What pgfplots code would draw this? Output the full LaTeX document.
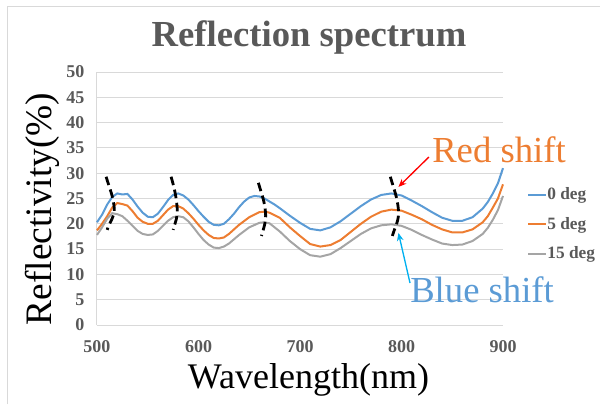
\documentclass[border=0pt]{standalone}
\usepackage{pgfplots}
\pgfplotsset{compat=1.18}
\usepackage{fontspec}
\setmainfont{Liberation Serif}
\usetikzlibrary{arrows.meta}
\definecolor{cblue}{HTML}{5B9BD5}
\definecolor{corange}{HTML}{ED7D31}
\definecolor{cgray}{HTML}{A5A5A5}
\definecolor{gridgray}{HTML}{D9D9D9}
\definecolor{tgray}{HTML}{595959}
\definecolor{arrowblue}{HTML}{00B0F0}
\begin{document}
\begin{tikzpicture}
\path[use as bounding box] (-72.75pt,-59.25pt) rectangle (377.25pt,243.75pt);
\begin{axis}[
    at={(0,0)}, anchor=south west, scale only axis,
    width=304.5pt, height=189.75pt,
    xmin=500, xmax=900, ymin=0, ymax=50,
    xtick={500,600,...,900}, ytick={0,5,...,50},
    ymajorgrids, grid style={gridgray, line width=0.75pt},
    axis x line*=bottom, axis y line*=left,
    axis line style={gridgray, line width=0.75pt, -},
    major tick length=0pt,
    tick label style={font=\bfseries\fontsize{13.5}{14}\selectfont, text=tgray},
    /pgf/number format/assume math mode=true,
    /pgf/number format/1000 sep={},
    yticklabel style={xshift=-6pt},
    xticklabel style={yshift=-8pt},
    clip=false,
    legend style={at={(1.059,0.398)}, anchor=west, draw=none, fill=none,
        inner sep=0pt, font=\bfseries\fontsize{13}{13}\selectfont, text=tgray,
        nodes={inner sep=0.6pt}, row sep=10.5pt},
    legend cell align=left,
    legend image code/.code={\draw[#1, line width=1.5pt] (0pt,0pt) -- (13pt,0pt);},
]
% 0 deg
\addplot[cblue, line width=1.5pt] coordinates {
(500,20.3) (505,21.8) (510,23.8) (515,25.3) (520,26.0) (525,25.8) (530,25.9)
(535,24.8) (540,23.4) (545,22.2) (550,21.4) (555,21.3) (560,22.0) (565,23.3)
(570,24.7) (575,25.7) (580,26.0) (585,25.6) (590,24.8) (595,23.7) (600,22.5)
(605,21.4) (610,20.4) (615,19.8) (620,19.7) (625,20.0) (630,20.9) (635,22.0)
(640,23.3) (645,24.4) (650,25.2) (655,25.5) (660,25.4) (665,25.0) (670,24.4)
(675,23.8) (680,23.1) (690,21.6) (700,20.2) (710,19.0) (720,18.7) (730,19.3)
(740,20.5) (750,22.0) (760,23.5) (770,24.8) (780,25.7) (790,26.0) (800,25.6)
(810,24.6) (820,23.5) (830,22.3) (840,21.2) (850,20.6) (860,20.6) (870,21.3)
(880,23.0) (885,24.3) (890,26.0) (895,28.0) (900,31.0)};
\addlegendentry{0 deg}
% 5 deg
\addplot[corange, line width=1.5pt] coordinates {
(500,18.7) (505,20.0) (510,21.5) (515,23.2) (520,24.1) (525,23.9) (530,23.6)
(535,22.5) (540,21.2) (545,20.4) (550,20.0) (555,20.0) (560,20.6) (565,21.7)
(570,22.8) (575,23.5) (580,23.5) (585,23.0) (590,22.1) (595,21.0) (600,19.8)
(605,18.7) (610,17.8) (615,17.2) (620,17.1) (625,17.3) (630,18.0) (640,19.8)
(650,21.3) (660,22.3) (665,22.4) (670,22.2) (680,21.2) (690,19.3) (700,17.6)
(710,16.0) (720,15.5) (730,15.8) (740,16.8) (750,18.4) (760,20.0) (770,21.4)
(780,22.4) (790,22.8) (800,22.6) (810,21.8) (820,20.9) (830,19.8) (840,18.9)
(850,18.3) (860,18.3) (870,18.9) (880,20.3) (885,21.5) (890,23.2) (895,25.0)
(900,27.8)};
\addlegendentry{5 deg}
% 15 deg
\addplot[cgray, line width=1.5pt] coordinates {
(500,17.8) (505,19.3) (510,21.0) (515,22.1) (520,21.9) (525,21.5) (530,20.6)
(535,19.6) (540,18.6) (545,18.0) (550,17.8) (555,17.9) (560,18.6) (565,19.6)
(570,20.6) (575,21.3) (580,21.5) (585,21.3) (590,20.5) (595,19.3) (600,18.0)
(605,16.8) (610,15.9) (615,15.3) (620,15.2) (625,15.5) (630,16.1) (640,17.8)
(650,19.3) (660,20.2) (665,20.3) (670,20.1) (680,18.5) (690,16.6) (700,15.0)
(710,13.8) (720,13.5) (730,14.0) (740,15.2) (750,16.6) (760,18.0) (770,19.1)
(780,19.7) (790,19.9) (800,19.6) (810,18.8) (820,17.8) (830,16.9) (840,16.1)
(850,15.8) (860,15.9) (870,16.6) (880,18.0) (885,19.2) (890,20.8) (895,22.7)
(900,25.5)};
\addlegendentry{15 deg}

% dashed peak markers
\draw[black, line width=2.1pt, dash pattern=on 6.5pt off 3.5pt]
  (axis cs:509,29.3) to[out=-74,in=95] (axis cs:517,23.1) to[out=-85,in=74] (axis cs:510,18.8);
\draw[black, line width=2.1pt, dash pattern=on 6.5pt off 3.5pt]
  (axis cs:573,29.3) to[out=-74,in=95] (axis cs:579,23.1) to[out=-85,in=74] (axis cs:575,18.8);
\draw[black, line width=2.1pt, dash pattern=on 6.5pt off 3.5pt]
  (axis cs:659,28.1) to[out=-74,in=95] (axis cs:666,22.3) to[out=-85,in=74] (axis cs:662,17.6);
\draw[black, line width=2.1pt, dash pattern=on 6.5pt off 3.5pt]
  (axis cs:789,29.3) to[out=-74,in=95] (axis cs:797,22.7) to[out=-85,in=74] (axis cs:791,17.6);
% arrows
\draw[red, line width=1pt, -{Stealth[length=6pt,width=5pt]}] (axis cs:827,33.2) -- (axis cs:797,27.3);
\draw[arrowblue, line width=1pt, -{Stealth[length=6pt,width=5pt]}] (axis cs:808.4,8.3) -- (axis cs:797,18.2);
\end{axis}

\begin{scope}[x=0.75pt, y=-0.75pt, xshift=-72.75pt, yshift=243.75pt]
\draw[gridgray, line width=0.75pt] (7.5,404) -- (7.5,7) -- (600,7);
\node[anchor=base, font=\bfseries\fontsize{27.5}{27.5}\selectfont, text=tgray] at (309,47) {Reflection spectrum};
\node[anchor=base, font=\fontsize{27}{27}\selectfont] at (308.5,388) {Wavelength(nm)};
\node[anchor=base, rotate=90, font=\fontsize{28}{28}\selectfont] at (52,209) {Reflectivity(\%)};
\node[anchor=base west, inner sep=0pt, text=corange, font=\fontsize{27.5}{27.5}\selectfont] at (432,163) {Red shift};
\node[anchor=base west, inner sep=0pt, text=cblue, font=\fontsize{27.5}{27.5}\selectfont] at (410,302) {Blue shift};
\end{scope}
\end{tikzpicture}
\end{document}
